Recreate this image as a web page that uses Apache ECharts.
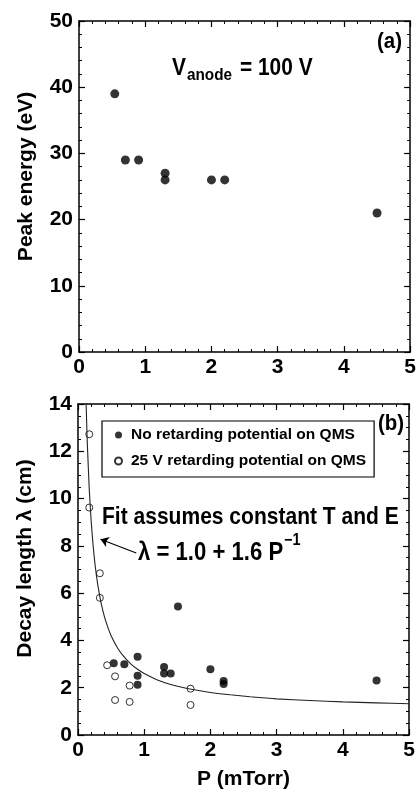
<!DOCTYPE html>
<html>
<head>
<meta charset="utf-8">
<script src="https://cdn.jsdelivr.net/npm/echarts@6/dist/echarts.min.js"></script>
<style>
html, body { margin: 0; padding: 0; background: #fff; }
#chart { width: 419px; height: 798px; }
</style>
</head>
<body>
<div id="chart"></div>
<script>
// panel (a): peak energy vs pressure
var peak_p = [0.54, 0.70, 0.90, 1.30, 1.30, 2.00, 2.20, 4.50];
var peak_e = [39, 29, 29, 27, 26, 26, 26, 21];

// panel (b): decay length, no retarding potential
var noret_p = [0.54, 0.70, 0.90, 0.90, 0.90, 1.30, 1.30, 1.40, 1.51, 2.00, 2.20, 2.20, 4.51];
var noret_l = [3.03, 2.99, 3.31, 2.51, 2.13, 2.88, 2.60, 2.60, 5.43, 2.78, 2.28, 2.16, 2.30];

// panel (b): decay length, 25 V retarding potential
var ret_p = [0.17, 0.17, 0.33, 0.33, 0.44, 0.56, 0.56, 0.78, 0.78, 1.70, 1.70];
var ret_l = [12.72, 9.62, 6.84, 5.80, 2.95, 2.48, 1.48, 2.09, 1.40, 1.96, 1.27];

// fit curve, points
var fit_p = [0.12, 0.13, 0.14, 0.15, 0.17, 0.2, 0.23, 0.26, 0.3, 0.35, 0.4, 0.45, 0.5, 0.6, 0.7, 0.8, 0.9, 1.0, 1.2, 1.4, 1.6, 1.8, 2.0, 2.3, 2.6, 3.0, 3.5, 4.0, 4.5, 5.0];
var fit_l = [14.3, 13.3, 12.4, 11.7, 10.4, 9.0, 7.96, 7.15, 6.33, 5.57, 5.0, 4.56, 4.2, 3.67, 3.29, 3.0, 2.78, 2.6, 2.33, 2.14, 2.0, 1.89, 1.8, 1.7, 1.62, 1.53, 1.46, 1.4, 1.36, 1.32];

var xTicks = ['0', '1', '2', '3', '4', '5'];

var FONT = "'Liberation Sans', Arial, sans-serif";

function zip(a, b){
    var out = [];
    for (var i = 0; i < a.length; i++) out.push([a[i], b[i]]);
    return out;
}

function axisBase(extra){
    var ax = {
        type: 'value',
        axisLine: { show: true, onZero: false, lineStyle: { color: '#000', width: 1.5 } },
        axisTick: { show: true, inside: true, length: 6, lineStyle: { color: '#000', width: 1.2 } },
        minorTick: { show: true, splitNumber: 5, length: 3, lineStyle: { color: '#000', width: 1 } },
        splitLine: { show: false },
        axisLabel: { show: true, color: '#000', fontFamily: FONT, fontWeight: 'bold', fontSize: 21, margin: 6 },
        nameTextStyle: { color: '#000', fontFamily: FONT, fontWeight: 'bold', fontSize: 21 }
    };
    for (var k in extra) ax[k] = extra[k];
    return ax;
}

function minor(n){
    return { show: true, splitNumber: n, length: 3, lineStyle: { color: '#000', width: 1 } };
}

// condensed bold text, like the figure's lettering
function label(x, y, txt, size, sx){
    return { type: 'text', left: x, top: y, scaleX: sx, style: { text: txt, fill: '#000', font: 'bold ' + size + 'px ' + FONT } };
}

var xLabel = { color: '#000', fontFamily: FONT, fontWeight: 'bold', fontSize: 21, margin: 5,
    formatter: function(v){ return xTicks[v]; } };

var chart = echarts.init(document.getElementById('chart'));

var option = {
    animation: false,
    grid: [
        { left: 79, top: 21, width: 332, height: 331 },
        { left: 78, top: 404, width: 331, height: 331 }
    ],
    xAxis: [
        axisBase({ gridIndex: 0, min: 0, max: 5, interval: 1, minorTick: minor(5), axisLabel: xLabel }),
        axisBase({ gridIndex: 1, min: 0, max: 5, interval: 1, minorTick: minor(5), axisLabel: xLabel,
            name: 'P (mTorr)', nameLocation: 'middle', nameGap: 34 }),
        axisBase({ gridIndex: 0, position: 'top', min: 0, max: 5, interval: 1, minorTick: minor(5), axisLabel: { show: false } }),
        axisBase({ gridIndex: 1, position: 'top', min: 0, max: 5, interval: 1, minorTick: minor(5), axisLabel: { show: false } })
    ],
    yAxis: [
        axisBase({ gridIndex: 0, min: 0, max: 50, interval: 10, minorTick: minor(5),
            name: 'Peak energy (eV)', nameLocation: 'middle', nameGap: 42, nameRotate: 90,
            nameTextStyle: { color: '#000', fontFamily: FONT, fontWeight: 'bold', fontSize: 21, padding: [0, 0, 0, 20] } }),
        axisBase({ gridIndex: 1, min: 0, max: 14, interval: 2, minorTick: minor(4),
            name: 'Decay length \u03bb (cm)', nameLocation: 'middle', nameGap: 42, nameRotate: 90,
            nameTextStyle: { color: '#000', fontFamily: FONT, fontWeight: 'bold', fontSize: 21, padding: [0, 0, 0, 22] } }),
        axisBase({ gridIndex: 0, position: 'right', min: 0, max: 50, interval: 10, minorTick: minor(5), axisLabel: { show: false } }),
        axisBase({ gridIndex: 1, position: 'right', min: 0, max: 14, interval: 2, minorTick: minor(4), axisLabel: { show: false } })
    ],
    legend: {
        data: ['No retarding potential on QMS', '25 V retarding potential on QMS'],
        orient: 'vertical',
        left: 102,
        top: 421,
        padding: [5, 8, 7, 12],
        itemGap: 8,
        itemWidth: 7,
        itemHeight: 7,
        borderColor: '#000',
        borderWidth: 1.2,
        borderRadius: 0,
        textStyle: { color: '#000', fontFamily: FONT, fontWeight: 'bold', fontSize: 15.5, lineHeight: 18, padding: [0, 0, 0, 4] }
    },
    series: [
        {
            name: 'peak',
            type: 'scatter',
            xAxisIndex: 0, yAxisIndex: 0,
            symbol: 'circle', symbolSize: 9,
            itemStyle: { color: '#000' },
            data: zip(peak_p, peak_e)
        },
        {
            name: 'fit',
            type: 'line',
            xAxisIndex: 1, yAxisIndex: 1,
            smooth: 0.2,
            showSymbol: false,
            symbol: 'none',
            lineStyle: { color: '#222', width: 1.1 },
            data: zip(fit_p, fit_l),
            markLine: {
                silent: true,
                symbol: ['none', 'arrow'],
                symbolSize: 8,
                label: { show: false },
                lineStyle: { color: '#000', width: 1.2, type: 'solid' },
                emphasis: { disabled: true },
                data: [[{ coord: [0.88, 7.7] }, { coord: [0.34, 8.28] }]]
            }
        },
        {
            name: 'No retarding potential on QMS',
            type: 'scatter',
            xAxisIndex: 1, yAxisIndex: 1,
            symbol: 'circle', symbolSize: 8,
            itemStyle: { color: '#000' },
            data: zip(noret_p, noret_l)
        },
        {
            name: '25 V retarding potential on QMS',
            type: 'scatter',
            xAxisIndex: 1, yAxisIndex: 1,
            symbol: 'circle', symbolSize: 7,
            itemStyle: { color: '#fff', borderColor: '#000', borderWidth: 1 },
            data: zip(ret_p, ret_l)
        }
    ],
    graphic: [
        label(377, 31, '(a)', 22, 0.93),
        label(378, 413, '(b)', 22, 0.93),
        label(172, 56, 'V', 24, 0.87),
        label(187, 67, 'anode', 17, 0.9),
        label(240, 56, '= 100 V', 24, 0.87),
        label(102, 505, 'Fit assumes constant T and E', 24, 0.876),
        label(138, 541, '\u03bb = 1.0 + 1.6 P', 25, 0.885),
        label(284, 533, '\u22121', 16, 0.9)
    ]
};

chart.setOption(option);
</script>
</body>
</html>
